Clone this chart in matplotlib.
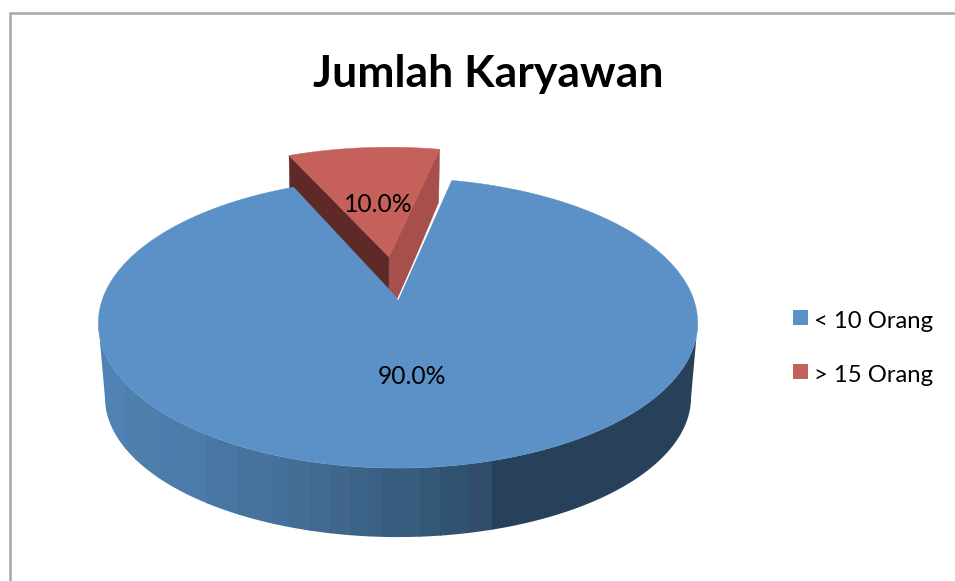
import numpy as np
import matplotlib
matplotlib.use("Agg")
import matplotlib.pyplot as plt
from matplotlib.patches import Polygon, Rectangle

categories = ["< 10 Orang", "> 15 Orang"]
values = [90.0, 10.0]
title = "Jumlah Karyawan"

W, H = 955, 581
fig = plt.figure(figsize=(W / 100, H / 100), dpi=100)
ax = fig.add_axes([0, 0, 1, 1])
ax.set_xlim(0, W)
ax.set_ylim(H, 0)
ax.axis("off")
plt.rcParams["font.family"] = ["Lato", "DejaVu Sans"]

BLUE, RED = "#5b91c6", "#c6605b"
RED_SIDE, RED_DARK = "#a64f4c", "#5e2a27"
FRAME = "#a8a8a8"

# side bands of the blue slice: (left x, right x, colour)
bands = [(90, 125, "#5083b3"), (125, 135, "#4e80ae"), (135, 158, "#4e7fab"),
         (158, 185, "#4b7cab"), (185, 207, "#4b7ba8"), (207, 238, "#4876a3"),
         (238, 272, "#47729d"), (272, 288, "#45709b"), (288, 310, "#446d95"),
         (310, 330, "#406a92"), (330, 350, "#41668b"), (350, 368, "#3c6488"),
         (368, 382, "#3c6085"), (382, 400, "#385c80"), (400, 420, "#385d7e"),
         (420, 440, "#345877"), (440, 468, "#315372"), (468, 492, "#324c6b"),
         (492, 710, "#28415a")]


def proj(b, cx, cy, rx, ry, k=0.166):
    b = np.radians(b)
    u, v = np.sin(b), np.cos(b)
    d = 1 + k * v
    return np.column_stack([cx + rx * u / d, cy - ry * v / d])


# frame
ax.plot([9.5, 9.5, W], [H, 12.8, 12.8], color=FRAME, lw=1.8, solid_joinstyle="miter")

# slice angles, clockwise from the top
start = 12.0
blue_sweep = 360 * values[0] / sum(values)
red_sweep = 360 * values[1] / sum(values)
blue_b = np.linspace(start, start + blue_sweep, 400)
red_b = np.linspace(start + blue_sweep, start + blue_sweep + red_sweep, 60)

apex_b = (398, 299)

# exploded red slice
apex_r = (389, 257)
depth_r = 53
top_r = proj(red_b, apex_r[0], apex_r[1], 283, 128)
left_face = [tuple(apex_r), tuple(top_r[0]), (top_r[0][0] + 1, top_r[0][1] + depth_r),
             (apex_r[0], apex_r[1] + depth_r)]
right_face = [tuple(apex_r), tuple(top_r[-1]), (top_r[-1][0] - 1, top_r[-1][1] + depth_r),
              apex_b, (apex_r[0], apex_r[1] + depth_r)]
ax.add_patch(Polygon(left_face, fc=RED_DARK, ec=RED_DARK, lw=0.3))
ax.add_patch(Polygon(right_face, fc=RED_SIDE, ec=RED_SIDE, lw=0.3))
ax.add_patch(Polygon(np.vstack([[apex_r], top_r]), fc=RED, ec=RED, lw=0.3))

# blue side wall: one outline from silhouette to silhouette, vertical bands clipped to it
side = np.linspace(99.6, 260.4, 300)
up = proj(side, apex_b[0], apex_b[1], 295.5, 141)
lo = proj(side, apex_b[0], 374, 289, 136)
wall = Polygon(np.vstack([up, lo[::-1]]), fc="none", ec="none", transform=ax.transData)
ax.add_patch(wall)
for x0, x1, c in bands:
    r = Rectangle((x0, 300), x1 - x0 + 0.5, 260, fc=c, ec="none", antialiased=False)
    ax.add_patch(r)
    r.set_clip_path(wall)

# blue top
top_b = proj(blue_b, apex_b[0], apex_b[1], 295.5, 141)
ax.add_patch(Polygon(np.vstack([[apex_b], top_b]), fc=BLUE, ec=BLUE, lw=0.3))
ax.plot([apex_b[0], top_b[0, 0]], [apex_b[1], top_b[0, 1]], color="white", lw=1.0)

# labels
ax.text(378, 204.5, f"{values[1]:.1f}%", ha="center", va="center", fontsize=17.7, color="black")
ax.text(412, 376, f"{values[0]:.1f}%", ha="center", va="center", fontsize=17.7, color="black")
ax.text(488.5, 74, title, ha="center", va="center", fontsize=32, fontweight="bold", color="black")

# legend
for y, c, name in zip([310, 364], [BLUE, RED], categories):
    ax.add_patch(Rectangle((793, y), 15, 15, fc=c, ec="none"))
    ax.text(814, y + 11, name, ha="left", va="center", fontsize=17.2, color="black")

fig.savefig("out.png", dpi=100)
